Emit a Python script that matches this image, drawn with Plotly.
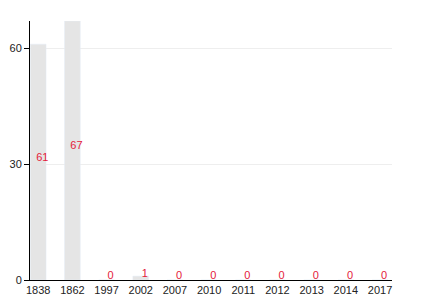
import plotly.graph_objects as go

years = ["1838", "1862", "1997", "2002", "2007", "2010", "2011", "2012", "2013", "2014", "2017"]
values = [61, 67, 0, 1, 0, 0, 0, 0, 0, 0, 0]
label_y = [v / 2 for v in values]

fig = go.Figure()
fig.add_trace(go.Bar(x=years, y=values, marker_color="#e5e5e5", width=0.46,
                     hoverinfo="skip", showlegend=False))
fig.add_trace(go.Scatter(x=years, y=label_y, mode="text", text=[str(v) for v in values],
                         textposition="middle center",
                         textfont=dict(color="#e4203a", size=11, family="Liberation Sans"),
                         xaxis="x2", yaxis="y2", showlegend=False, cliponaxis=False))

fig.update_layout(
    width=430, height=300,
    margin=dict(l=30, r=38, t=21, b=20),
    paper_bgcolor="white", plot_bgcolor="white",
    font=dict(family="Liberation Sans", size=11, color="#222"),
    xaxis=dict(type="category", range=[-0.24, 10.35], showline=True, linecolor="black",
               linewidth=1, ticks="", showgrid=False, automargin=False,
               tickfont=dict(size=11, color="#222")),
    xaxis2=dict(type="category", overlaying="x", range=[-0.36, 10.23], visible=False,
                categoryorder="array", categoryarray=years),
    yaxis=dict(range=[0, 67], tickvals=[0, 30, 60], showline=True, linecolor="black",
               linewidth=1, ticks="outside", ticklen=5, tickcolor="black",
               showgrid=True, gridcolor="#eeeeee", zeroline=False, automargin=False,
               tickfont=dict(size=11, color="#222")),
    yaxis2=dict(overlaying="y", range=[-1.03, 65.97], visible=False),
)

fig.write_html("out.html")
